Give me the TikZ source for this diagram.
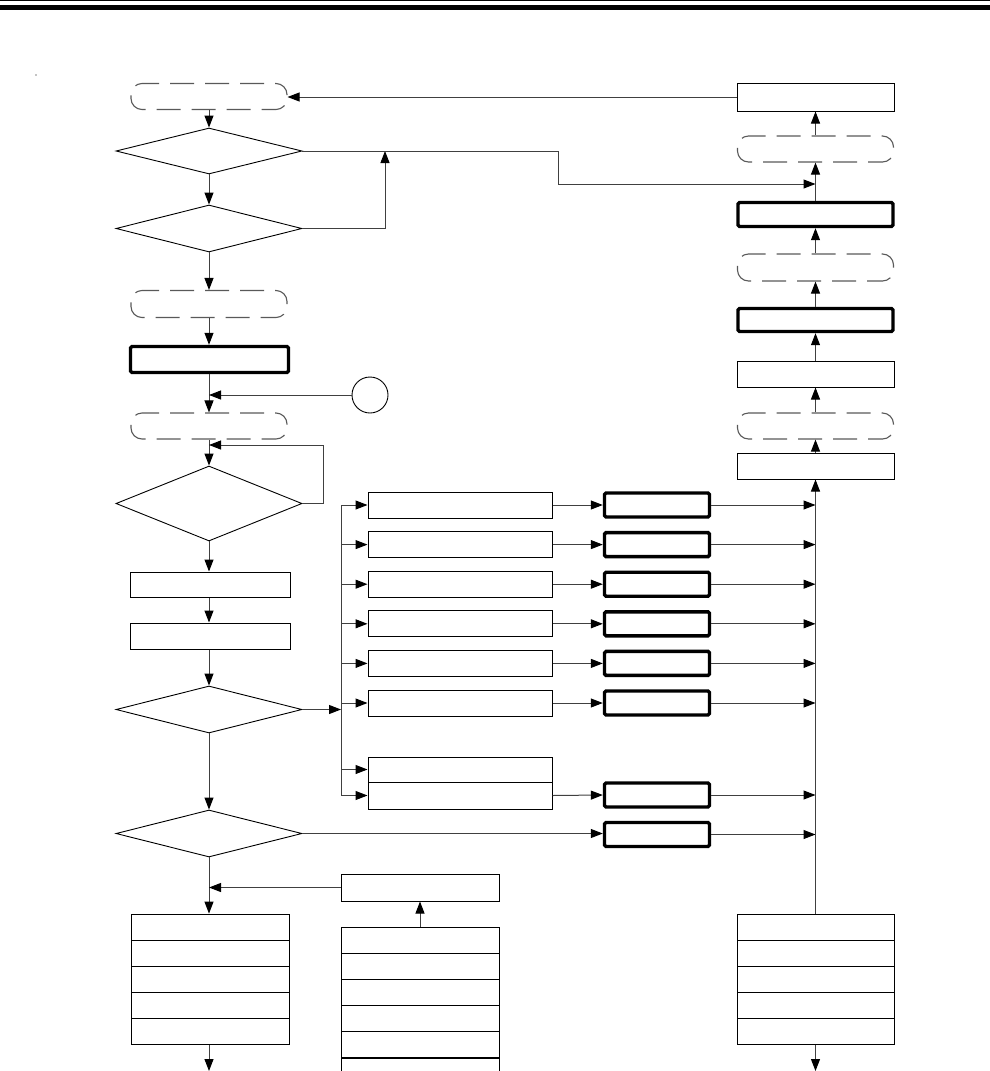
\documentclass[tikz,border=0pt]{standalone}
\usetikzlibrary{shapes.geometric,arrows.meta}

\tikzset{
  box/.style={draw, line width=1pt, minimum width=158pt, minimum height=26pt, inner sep=0pt},
  boldbox/.style={draw, line width=3.4pt, rounded corners=1.5pt, minimum width=158pt, minimum height=24pt, inner sep=0pt},
  term/.style={draw=black!65, line width=1.1pt, dash pattern=on 24pt off 11pt, dash phase=-12pt, rounded corners=11pt, minimum width=156pt, minimum height=26pt, inner sep=0pt},
  decision/.style={draw, diamond, line width=0.9pt, minimum width=186pt, minimum height=46pt, inner sep=0pt},
  flow/.style={draw=black!75, line width=1pt, -{Triangle[length=12pt,width=9pt,color=black]}},
}

\begin{document}
\begin{tikzpicture}[x=1pt, y=-1pt]
    \useasboundingbox (0,0) rectangle (990,1071);
    \clip (0,0) rectangle (990,1071);

    % header rules
    \draw[line width=1pt] (0,0.5) -- (990,0.5);
    \fill (0,4.5) rectangle (990,9.5);
    \fill (36,75) circle (0.6);

    % left column
    \node[term] (start) at (209,96.5) {};
    \node[decision] (chkA) at (209,151) {};
    \node[decision, minimum height=47pt] (chkB) at (209,228.5) {};
    \node[term, minimum height=27pt] (mid) at (209,304) {};
    \node[boldbox, minimum height=26pt] (init) at (209.5,359.5) {};
    \node[draw, circle, line width=0.9pt, minimum size=36pt] (conn) at (370,395) {};
    \node[term] (wait) at (209,426) {};
    \node[decision, minimum height=75pt] (poll) at (209,503.5) {};
    \node[box, minimum width=160pt, minimum height=25pt] (readA) at (210,584.5) {};
    \node[box, minimum width=160pt] (readB) at (210,636) {};
    \node[decision, minimum height=47pt] (sel) at (209,709.5) {};
    \node[decision, minimum height=47pt] (other) at (209,833.5) {};

    % right column
    \node[box, minimum width=157pt, minimum height=28pt] (ret) at (815.5,97) {};
    \node[term] (endA) at (815.5,149) {};
    \node[boldbox, minimum width=155pt] (outA) at (815.5,214.5) {};
    \node[term, minimum height=27pt] (endB) at (815.5,267.5) {};
    \node[boldbox, minimum width=155pt, minimum height=23pt] (outB) at (815.5,320) {};
    \node[box, minimum width=157pt] (prepA) at (815.5,374) {};
    \node[term] (endC) at (815.5,426) {};
    \node[box, minimum width=157pt] (prepB) at (815.5,466) {};

    % case boxes
    \foreach \i in {1,...,6} {
        \node[box, minimum width=184pt] (case\i) at (460,{505+39.6*(\i-1)}) {};
        \node[boldbox, minimum width=105pt] (act\i) at (657,{505+39.6*(\i-1)}) {};
    }
    \node[box, minimum width=184pt, minimum height=25pt] (caseG) at (460,769.5) {};
    \node[box, minimum width=184pt, minimum height=27pt] (caseH) at (460,795.5) {};
    \node[boldbox, minimum width=105pt] (act7) at (657,795) {};
    \node[boldbox, minimum width=105pt] (act8) at (657,834.5) {};

    % bottom stacks
    \node[box, minimum height=27pt] (side) at (420,887.5) {};
    \foreach \i in {1,...,5} {
        \node[box] (lst\i) at (210,{927.1+26.2*(\i-1)}) {};
        \node[box, minimum width=157pt] (rst\i) at (815.5,{927.1+26.2*(\i-1)}) {};
    }
    \foreach \i in {1,...,6} {
        \node[box] (mst\i) at (420,{940.1+26.2*(\i-1)}) {};
    }

    % connectors, left column
    \draw[flow] (ret.west) -- (ret.west -| start.east);
    \draw[flow] (start.south) -- (chkA.north);
    \draw[flow] (chkA.south) -- (chkB.north);
    \draw[flow] (chkB.east) -| (385,151);
    \draw[flow] (chkA.east) -| (558,184) -- (815.5,184);
    \draw[flow] (chkB.south) -- (mid.north);
    \draw[flow] (mid.south) -- (init.north -| mid.south);
    \draw[flow] (init.south -| wait.north) -- (wait.north);
    \draw[flow] (conn.west) -- (conn.west -| wait.north);
    \draw[flow] (wait.south) -- (poll.north);
    \draw[flow] (poll.east) -- (323,503.5) |- (209,445);
    \draw[flow] (poll.south) -- (poll.south |- readA.north);
    \draw[flow] (readA.south -| poll.south) -- (readB.north -| poll.south);
    \draw[flow] (readB.south -| poll.south) -- (sel.north);
    \draw[flow] (sel.south) -- (other.north);

    % bus to cases
    \draw[black!75, line width=1pt] (341,505) -- (341,795.5);
    \draw[flow] (sel.east) -- (341,709.5);
    \foreach \i in {1,...,6} {
        \draw[flow] (341,0 |- case\i.west) -- (case\i.west);
        \draw[flow] (case\i.east) -- (act\i.west);
        \draw[flow] (act\i.east) -- (act\i.east -| prepB.south);
    }
    \draw[flow] (341,0 |- caseG.west) -- (caseG.west);
    \draw[flow] (341,0 |- caseH.west) -- (caseH.west);
    \draw[flow] (caseH.east) -- (act7.west);
    \draw[flow] (other.east) -- (other.east -| act8.west);
    \draw[flow] (act7.east) -- (act7.east -| prepB.south);
    \draw[flow] (act8.east) -- (act8.east -| prepB.south);

    % right column, upwards
    \draw[flow] (rst1.north) -- (prepB.south);
    \draw[flow] (prepB.north) -- (endC.south);
    \draw[flow] (endC.north) -- (prepA.south);
    \draw[flow] (prepA.north) -- (outB.south);
    \draw[flow] (outB.north) -- (endB.south);
    \draw[flow] (endB.north) -- (outA.south);
    \draw[flow] (outA.north) -- (endA.south);
    \draw[flow] (endA.north) -- (ret.south);

    % bottom
    \draw[flow] (other.south) -- (other.south |- lst1.north);
    \draw[flow] (side.west) -- (side.west -| other.south);
    \draw[flow] (mst1.north) -- (side.south);
    \draw[flow] (lst5.south -| other.south) -- (209,1071);
    \draw[flow] (rst5.south) -- (815.5,1071);
\end{tikzpicture}
\end{document}
